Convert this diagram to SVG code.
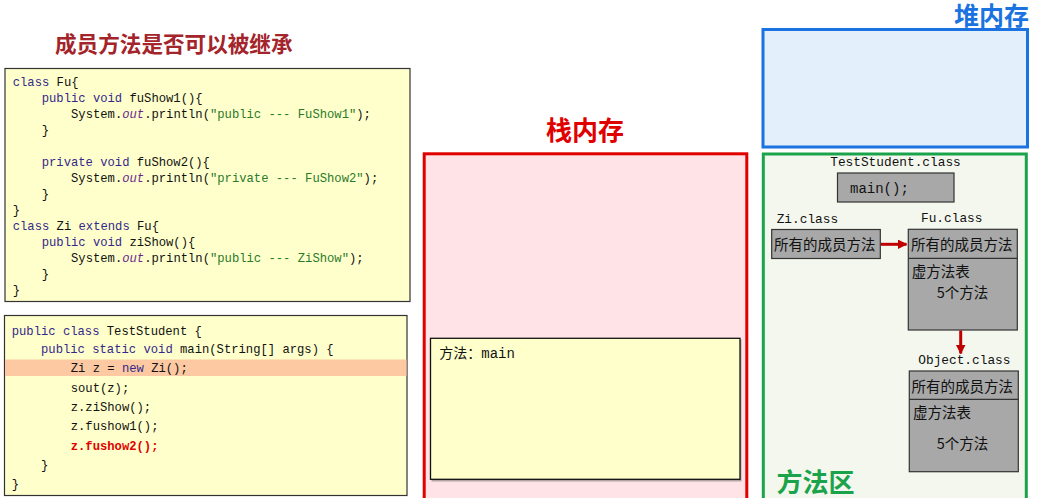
<svg xmlns="http://www.w3.org/2000/svg" width="1039" height="498" viewBox="0 0 1039 498">
<defs>
<style>
.code{font-family:"Liberation Mono","DejaVu Sans Mono",monospace;font-size:12.2px;fill:#111;}
.kw{fill:#34288a;}
.fld{fill:#6a2a8c;font-style:italic;}
.str{fill:#2a7a2a;}
.mono{font-family:"Liberation Mono","DejaVu Sans Mono",monospace;fill:#111;}
.cjk{font-family:"Noto Sans CJK SC","Noto Sans",sans-serif;fill:#111;font-size:14.5px;}
.title{font-family:"Noto Sans CJK SC",sans-serif;font-weight:bold;}
.gray{fill:#a8a8a8;stroke:#333;stroke-width:1.2;}
</style>
<marker id="ah" viewBox="0 0 10 10" refX="9" refY="5" markerWidth="3.2" markerHeight="3.2" orient="auto" markerUnits="strokeWidth">
<path d="M0,0 L10,5 L0,10 z" fill="#c00000"/>
</marker>
</defs>
<rect width="1039" height="498" fill="#ffffff"/>

<g id="title">
<text x="55" y="52" class="title" font-size="21.6" fill="#a3242a">成员方法是否可以被继承</text>
</g>

<g id="code1">
<rect x="5" y="68.5" width="405" height="233" fill="#ffffcc" stroke="#333" stroke-width="1.2"/>
<text class="code" x="12.7" y="86"><tspan class="kw">class</tspan> Fu{</text>
<text class="code" x="41.7" y="102"><tspan class="kw">public</tspan> <tspan class="kw">void</tspan> fuShow1(){</text>
<text class="code" x="71" y="118">System.<tspan class="fld">out</tspan>.println(<tspan class="str">"public --- FuShow1"</tspan>);</text>
<text class="code" x="41.7" y="134">}</text>
<text class="code" x="41.7" y="165.5"><tspan class="kw">private</tspan> <tspan class="kw">void</tspan> fuShow2(){</text>
<text class="code" x="71" y="181.5">System.<tspan class="fld">out</tspan>.println(<tspan class="str">"private --- FuShow2"</tspan>);</text>
<text class="code" x="41.7" y="197.5">}</text>
<text class="code" x="12.7" y="213.5">}</text>
<text class="code" x="12.7" y="229.5"><tspan class="kw">class</tspan> Zi <tspan class="kw">extends</tspan> Fu{</text>
<text class="code" x="41.7" y="245.5"><tspan class="kw">public</tspan> <tspan class="kw">void</tspan> ziShow(){</text>
<text class="code" x="71" y="261.5">System.<tspan class="fld">out</tspan>.println(<tspan class="str">"public --- ZiShow"</tspan>);</text>
<text class="code" x="41.7" y="277.5">}</text>
<text class="code" x="12.7" y="293.5">}</text>
</g>

<g id="code2">
<rect x="4.5" y="315.5" width="402.5" height="180" fill="#ffffcc" stroke="#333" stroke-width="1.2"/>
<rect x="5" y="359.5" width="401.5" height="16.5" fill="#fcc9a2"/>
<text class="code" x="11.7" y="334.5"><tspan class="kw">public</tspan> <tspan class="kw">class</tspan> TestStudent {</text>
<text class="code" x="41" y="353"><tspan class="kw">public</tspan> <tspan class="kw">static</tspan> <tspan class="kw">void</tspan> main(String[] args) {</text>
<text class="code" x="70.7" y="372.3">Zi z = <tspan class="kw">new</tspan> Zi();</text>
<text class="code" x="70.7" y="391.8">sout(z);</text>
<text class="code" x="70.7" y="411">z.ziShow();</text>
<text class="code" x="70.7" y="430.3">z.fushow1();</text>
<text class="code" x="70.7" y="449.5" font-weight="bold" style="fill:#e00000">z.fushow2();</text>
<text class="code" x="41" y="468.5">}</text>
<text class="code" x="11.7" y="487.8">}</text>
</g>

<g id="stack">
<text x="585" y="140" class="title" font-size="26" fill="#e00000" text-anchor="middle">栈内存</text>
<rect x="424.2" y="153.8" width="322.6" height="360" fill="#ffe3e6" stroke="#e00000" stroke-width="3"/>
<rect x="431.5" y="339.5" width="310" height="142" fill="#666" opacity="0.5"/>
<rect x="430.5" y="338.3" width="309.5" height="141" fill="#ffffcc" stroke="#111" stroke-width="1.3"/>
<text x="439.3" y="358" class="mono" font-size="14" style="font-family:'Liberation Mono','Noto Sans CJK SC',monospace">方法：main</text>
</g>

<g id="heap">
<text x="1029" y="25" class="title" font-size="25" fill="#1a73e0" text-anchor="end">堆内存</text>
<rect x="763" y="29.5" width="264.5" height="117.5" fill="#e3f0fc" stroke="#1a73e0" stroke-width="3"/>
</g>

<g id="methodArea">
<rect x="763.3" y="154" width="263" height="360" fill="#f4f7ee" stroke="#1aa34a" stroke-width="3"/>
<text x="776.5" y="492" class="title" font-size="26" fill="#1aa34a">方法区</text>
</g>

<g id="testStudentClass">
<text x="895.5" y="166" class="mono" font-size="12.8" text-anchor="middle">TestStudent.class</text>
<rect x="837.5" y="173" width="116.5" height="29" class="gray"/>
<text x="850" y="193" class="mono" font-size="14">main();</text>
</g>

<g id="ziClass">
<text x="776.7" y="222.5" class="mono" font-size="12.8">Zi.class</text>
<rect x="771.7" y="229.5" width="108.6" height="29" class="gray"/>
<text x="774" y="249.5" class="cjk">所有的成员方法</text>
</g>

<g id="fuClass">
<text x="921" y="221.8" class="mono" font-size="12.8">Fu.class</text>
<rect x="908.3" y="229.3" width="109" height="100.7" class="gray"/>
<line x1="908.3" y1="258.3" x2="1017.3" y2="258.3" stroke="#333" stroke-width="1.2"/>
<text x="911" y="249.5" class="cjk">所有的成员方法</text>
<text x="911.7" y="277" class="cjk">虚方法表</text>
<text x="936.7" y="297.5" class="cjk">5个方法</text>
</g>

<g id="objectClass">
<text x="918.3" y="363.5" class="mono" font-size="12.8">Object.class</text>
<rect x="909.3" y="371" width="109" height="100.7" class="gray"/>
<line x1="909.3" y1="399.3" x2="1018.3" y2="399.3" stroke="#333" stroke-width="1.2"/>
<text x="911.5" y="391.5" class="cjk">所有的成员方法</text>
<text x="913" y="418" class="cjk">虚方法表</text>
<text x="936.7" y="449" class="cjk">5个方法</text>
</g>

<g id="connectors">
<line x1="881" y1="244.3" x2="906.5" y2="244.3" stroke="#c00000" stroke-width="3" marker-end="url(#ah)"/>
<line x1="960.7" y1="330.5" x2="960.7" y2="353.5" stroke="#c00000" stroke-width="3" marker-end="url(#ah)"/>
</g>
</svg>
